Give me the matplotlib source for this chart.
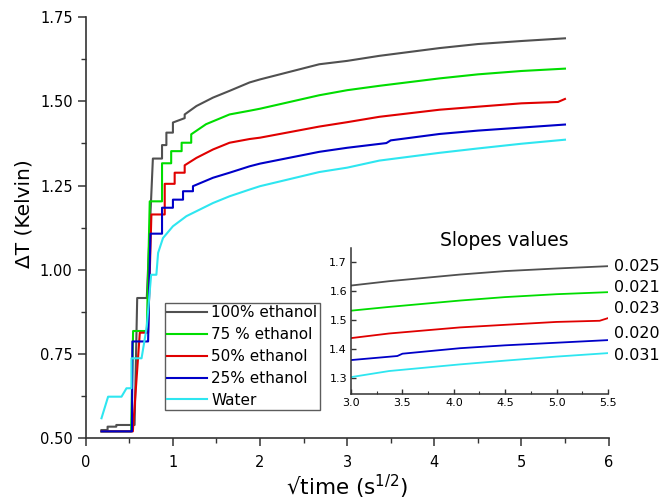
import numpy as np
import matplotlib
matplotlib.use("Agg")
import matplotlib.pyplot as plt
from matplotlib.ticker import MultipleLocator

# data (sqrt(time) in s^1/2, dT in Kelvin)
x_100 = [0.18, 0.25, 0.25, 0.35, 0.35, 0.56, 0.59, 0.70, 0.77, 0.875, 0.875, 0.925, 0.925, 1.0, 1.0,
         1.135, 1.135, 1.27, 1.46, 1.65, 1.88, 2.0, 2.68, 3.0, 3.37, 4.06, 4.5, 5.0, 5.5]
y_100 = [0.524, 0.524, 0.534, 0.534, 0.539, 0.539, 0.916, 0.916, 1.330, 1.330, 1.37, 1.37, 1.407, 1.407, 1.437,
         1.45, 1.461, 1.486, 1.511, 1.531, 1.556, 1.565, 1.610, 1.620, 1.635, 1.658, 1.670, 1.679, 1.687]

x_75 = [0.18, 0.52, 0.543, 0.70, 0.734, 0.875, 0.875, 0.98, 0.98, 1.10, 1.10, 1.21, 1.21,
        1.38, 1.65, 1.88, 2.0, 2.68, 3.0, 3.37, 4.06, 4.5, 5.0, 5.5]
y_75 = [0.52, 0.52, 0.818, 0.818, 1.203, 1.203, 1.316, 1.316, 1.352, 1.352, 1.377, 1.377, 1.402,
        1.432, 1.461, 1.472, 1.478, 1.518, 1.533, 1.546, 1.568, 1.580, 1.590, 1.597]

x_50 = [0.18, 0.54, 0.62, 0.715, 0.753, 0.906, 0.906, 1.02, 1.02, 1.135, 1.135, 1.27, 1.46, 1.65,
        1.88, 2.0, 2.68, 3.0, 3.37, 4.06, 4.5, 5.0, 5.42, 5.5]
y_50 = [0.52, 0.52, 0.813, 0.813, 1.164, 1.164, 1.255, 1.255, 1.288, 1.288, 1.31, 1.332, 1.357, 1.377,
        1.388, 1.392, 1.425, 1.438, 1.454, 1.475, 1.484, 1.494, 1.498, 1.507]

x_25 = [0.18, 0.53, 0.535, 0.715, 0.742, 0.875, 0.875, 1.0, 1.0, 1.116, 1.116, 1.23, 1.23, 1.46, 1.65,
        1.88, 2.0, 2.68, 3.0, 3.45, 3.5, 4.06, 4.5, 5.0, 5.5]
y_25 = [0.52, 0.52, 0.787, 0.787, 1.107, 1.107, 1.184, 1.184, 1.208, 1.208, 1.233, 1.233, 1.248, 1.273, 1.288,
        1.307, 1.315, 1.350, 1.362, 1.376, 1.384, 1.403, 1.413, 1.422, 1.431]

x_w = [0.18, 0.256, 0.41, 0.467, 0.524, 0.524, 0.64, 0.70, 0.75, 0.81, 0.83, 0.886, 1.0, 1.155,
       1.46, 1.65, 1.88, 2.0, 2.68, 3.0, 3.37, 4.06, 4.5, 5.0, 5.5]
y_w = [0.559, 0.623, 0.623, 0.648, 0.648, 0.737, 0.737, 0.831, 0.985, 0.985, 1.05, 1.094, 1.129, 1.159,
       1.198, 1.218, 1.238, 1.248, 1.290, 1.303, 1.324, 1.347, 1.36, 1.374, 1.386]

labels = ["100% ethanol", "75 % ethanol", "50% ethanol", "25% ethanol", "Water"]
slopes = ["0.025", "0.021", "0.023", "0.020", "0.031"]
colors = ["#505050", "#00dd00", "#e00000", "#0000c8", "#2ee6f0"]

series = [(x_100, y_100), (x_75, y_75), (x_50, y_50), (x_25, y_25), (x_w, y_w)]

fig = plt.figure(figsize=(6.6, 5.03), dpi=100)
ax = fig.add_axes([0.130, 0.129, 0.792, 0.837])

for (xs, ys), lab, c in zip(series, labels, colors):
    ax.plot(xs, ys, color=c, lw=1.5, label=lab)

ax.set_xlim(0, 6)
ax.set_ylim(0.5, 1.75)
ax.xaxis.set_major_locator(MultipleLocator(1))
ax.xaxis.set_minor_locator(MultipleLocator(0.5))
ax.yaxis.set_major_locator(MultipleLocator(0.25))
ax.yaxis.set_minor_locator(MultipleLocator(0.125))
ax.spines["top"].set_visible(False)
ax.spines["right"].set_visible(False)
for s in ["left", "bottom"]:
    ax.spines[s].set_linewidth(1.2)
    ax.spines[s].set_color("#333333")
ax.tick_params(which="major", direction="out", length=6, width=1.1, labelsize=10.5, colors="#333333",
               labelcolor="black")
ax.tick_params(which="minor", direction="out", length=3.5, width=1.0, colors="#333333")
ax.tick_params(axis="x", which="major", pad=6.5)
ax.yaxis.set_major_formatter(plt.FuncFormatter(lambda v, p: f"{v:.2f}"))
ax.set_xlabel("√time (s$^{1/2}$)", fontsize=15.5, labelpad=2)
ax.set_ylabel("ΔT (Kelvin)", fontsize=14.5)
ax.yaxis.set_label_coords(-0.10, 0.534)

leg = ax.legend(loc="upper left", bbox_to_anchor=(0.151, 0.321), borderaxespad=0, fontsize=11,
                frameon=True, fancybox=False, edgecolor="#333333", handlelength=2.6,
                handletextpad=0.3, labelspacing=0.45, borderpad=0.15)
leg.get_frame().set_linewidth(1.0)

# inset
ai = fig.add_axes([0.532, 0.217, 0.389, 0.290])
for (xs, ys), c in zip(series, colors):
    ai.plot(xs, ys, color=c, lw=1.3)
ai.set_xlim(3.0, 5.5)
ai.set_ylim(1.245, 1.75)
ai.xaxis.set_major_locator(MultipleLocator(0.5))
ai.xaxis.set_minor_locator(MultipleLocator(0.25))
ai.yaxis.set_major_locator(MultipleLocator(0.1))
ai.xaxis.set_major_formatter(plt.FuncFormatter(lambda v, p: f"{v:.1f}"))
ai.yaxis.set_major_formatter(plt.FuncFormatter(lambda v, p: f"{v:.1f}"))
ai.spines["top"].set_visible(False)
ai.spines["right"].set_visible(False)
for s in ["left", "bottom"]:
    ai.spines[s].set_linewidth(1.1)
    ai.spines[s].set_color("#333333")
ai.tick_params(which="major", direction="in", length=3.5, width=1.0, labelsize=8, pad=3, colors="#333333",
               labelcolor="black")
ai.tick_params(which="minor", direction="in", length=2, width=0.8, colors="#333333")
ai.text(0.595, 1.048, "Slopes values", transform=ai.transAxes, ha="center", va="center", fontsize=13.5)

slope_y = [1.686, 1.613, 1.539, 1.455, 1.378]
for s, yy in zip(slopes, slope_y):
    ai.text(5.558, yy, s, fontsize=11.5, ha="left", va="center", clip_on=False)

fig.savefig("out.png", dpi=100)
